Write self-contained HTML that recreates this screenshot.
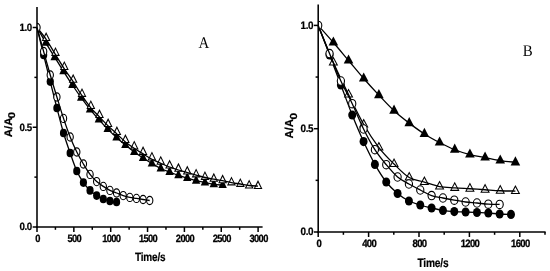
<!DOCTYPE html>
<html lang="en">
<head>
<meta charset="utf-8">
<title>A/A0 versus Time</title>
<style>
html,body{margin:0;padding:0;background:#fff;}
body{width:550px;height:271px;overflow:hidden;}
svg{display:block;will-change:transform;}
</style>
</head>
<body>
<svg width="550" height="271" viewBox="0 0 550 271">
<rect width="550" height="271" fill="#fff"/>
<filter id="soft" x="0" y="0" width="550" height="271" filterUnits="userSpaceOnUse"><feGaussianBlur stdDeviation="0.38"/></filter>
<g filter="url(#soft)">
<defs><clipPath id="ca"><rect x="37.00" y="0" width="300" height="227.00"/></clipPath><clipPath id="cb"><rect x="318.20" y="0" width="300" height="232.00"/></clipPath></defs>
<path d="M37.00 27.50 C38.47 30.05 42.89 37.85 45.84 42.80 C48.79 47.75 51.73 52.45 54.68 57.20 C57.63 61.95 60.57 66.67 63.52 71.30 C66.47 75.93 69.41 80.60 72.36 85.00 C75.31 89.40 78.25 93.63 81.20 97.70 C84.15 101.77 87.09 105.77 90.04 109.40 C92.99 113.03 95.93 116.22 98.88 119.50 C101.83 122.78 104.77 126.10 107.72 129.10 C110.67 132.10 113.61 134.83 116.56 137.50 C119.51 140.17 122.45 142.68 125.40 145.10 C128.35 147.52 131.29 149.85 134.24 152.00 C137.19 154.15 140.13 156.08 143.08 158.00 C146.03 159.92 148.97 161.75 151.92 163.50 C154.87 165.25 157.81 167.08 160.76 168.50 C163.71 169.92 166.65 170.87 169.60 172.00 C172.55 173.13 175.49 174.28 178.44 175.30 C181.39 176.32 184.33 177.20 187.28 178.10 C190.23 179.00 193.17 179.97 196.12 180.70 C199.07 181.43 202.01 181.90 204.96 182.50 C207.91 183.10 210.85 183.87 213.80 184.30 C216.75 184.73 221.17 184.97 222.64 185.10" fill="none" stroke="#000" stroke-width="1.30"/>
<g clip-path="url(#ca)">
<polygon points="45.84,36.80 41.64,45.80 50.04,45.80" fill="#000"/>
<polygon points="54.68,51.20 50.48,60.20 58.88,60.20" fill="#000"/>
<polygon points="63.52,65.30 59.32,74.30 67.72,74.30" fill="#000"/>
<polygon points="72.36,79.00 68.16,88.00 76.56,88.00" fill="#000"/>
<polygon points="81.20,91.70 77.00,100.70 85.40,100.70" fill="#000"/>
<polygon points="90.04,103.40 85.84,112.40 94.24,112.40" fill="#000"/>
<polygon points="98.88,113.50 94.68,122.50 103.08,122.50" fill="#000"/>
<polygon points="107.72,123.10 103.52,132.10 111.92,132.10" fill="#000"/>
<polygon points="116.56,131.50 112.36,140.50 120.76,140.50" fill="#000"/>
<polygon points="125.40,139.10 121.20,148.10 129.60,148.10" fill="#000"/>
<polygon points="134.24,146.00 130.04,155.00 138.44,155.00" fill="#000"/>
<polygon points="143.08,152.00 138.88,161.00 147.28,161.00" fill="#000"/>
<polygon points="151.92,157.50 147.72,166.50 156.12,166.50" fill="#000"/>
<polygon points="160.76,162.50 156.56,171.50 164.96,171.50" fill="#000"/>
<polygon points="169.60,166.00 165.40,175.00 173.80,175.00" fill="#000"/>
<polygon points="178.44,169.30 174.24,178.30 182.64,178.30" fill="#000"/>
<polygon points="187.28,172.10 183.08,181.10 191.48,181.10" fill="#000"/>
<polygon points="196.12,174.70 191.92,183.70 200.32,183.70" fill="#000"/>
<polygon points="204.96,176.50 200.76,185.50 209.16,185.50" fill="#000"/>
<polygon points="213.80,178.30 209.60,187.30 218.00,187.30" fill="#000"/>
<polygon points="222.64,179.10 218.44,188.10 226.84,188.10" fill="#000"/>
</g>
<path d="M37.00 27.50 C38.11 32.08 41.42 45.98 43.63 55.00 C45.84 64.02 48.05 72.77 50.26 81.60 C52.47 90.43 54.68 99.43 56.89 108.00 C59.10 116.57 61.31 125.50 63.52 133.00 C65.73 140.50 67.94 146.67 70.15 153.00 C72.36 159.33 74.57 166.07 76.78 171.00 C78.99 175.93 81.20 179.37 83.41 182.60 C85.62 185.83 87.83 188.23 90.04 190.40 C92.25 192.57 94.46 194.17 96.67 195.60 C98.88 197.03 101.09 198.10 103.30 199.00 C105.51 199.90 107.72 200.50 109.93 201.00 C112.14 201.50 115.45 201.83 116.56 202.00" fill="none" stroke="#000" stroke-width="1.30"/>
<g clip-path="url(#ca)">
<ellipse cx="43.63" cy="55.00" rx="3.60" ry="4.30" fill="#000"/>
<ellipse cx="50.26" cy="81.60" rx="3.60" ry="4.30" fill="#000"/>
<ellipse cx="56.89" cy="108.00" rx="3.60" ry="4.30" fill="#000"/>
<ellipse cx="63.52" cy="133.00" rx="3.60" ry="4.30" fill="#000"/>
<ellipse cx="70.15" cy="153.00" rx="3.60" ry="4.30" fill="#000"/>
<ellipse cx="76.78" cy="171.00" rx="3.60" ry="4.30" fill="#000"/>
<ellipse cx="83.41" cy="182.60" rx="3.60" ry="4.30" fill="#000"/>
<ellipse cx="90.04" cy="190.40" rx="3.60" ry="4.30" fill="#000"/>
<ellipse cx="96.67" cy="195.60" rx="3.60" ry="4.30" fill="#000"/>
<ellipse cx="103.30" cy="199.00" rx="3.60" ry="4.30" fill="#000"/>
<ellipse cx="109.93" cy="201.00" rx="3.60" ry="4.30" fill="#000"/>
<ellipse cx="116.56" cy="202.00" rx="3.60" ry="4.30" fill="#000"/>
</g>
<g clip-path="url(#ca)">
<polygon points="46.14,32.10 41.69,41.10 50.59,41.10" fill="#000"/>
<polygon points="46.14,34.47 43.38,40.05 48.90,40.05" fill="#fff"/>
<polygon points="55.48,46.90 51.03,55.90 59.93,55.90" fill="#000"/>
<polygon points="55.48,49.27 52.72,54.85 58.24,54.85" fill="#fff"/>
<polygon points="64.32,61.00 59.87,70.00 68.77,70.00" fill="#000"/>
<polygon points="64.32,63.37 61.56,68.95 67.08,68.95" fill="#fff"/>
<polygon points="73.16,73.80 68.71,82.80 77.61,82.80" fill="#000"/>
<polygon points="73.16,76.17 70.40,81.75 75.92,81.75" fill="#fff"/>
<polygon points="82.00,87.90 77.55,96.90 86.45,96.90" fill="#000"/>
<polygon points="82.00,90.27 79.24,95.85 84.76,95.85" fill="#fff"/>
<polygon points="90.84,100.00 86.39,109.00 95.29,109.00" fill="#000"/>
<polygon points="90.84,102.37 88.08,107.95 93.60,107.95" fill="#fff"/>
<polygon points="99.48,109.10 95.03,118.10 103.93,118.10" fill="#000"/>
<polygon points="99.48,111.47 96.72,117.05 102.24,117.05" fill="#fff"/>
<polygon points="108.12,118.10 103.67,127.10 112.57,127.10" fill="#000"/>
<polygon points="108.12,120.47 105.36,126.05 110.88,126.05" fill="#fff"/>
<polygon points="116.86,126.10 112.41,135.10 121.31,135.10" fill="#000"/>
<polygon points="116.86,128.47 114.10,134.05 119.62,134.05" fill="#fff"/>
<polygon points="125.40,134.10 120.95,143.10 129.85,143.10" fill="#000"/>
<polygon points="125.40,136.47 122.64,142.05 128.16,142.05" fill="#fff"/>
<polygon points="134.24,140.50 129.79,149.50 138.69,149.50" fill="#000"/>
<polygon points="134.24,142.87 131.48,148.45 137.00,148.45" fill="#fff"/>
<polygon points="143.08,146.10 138.63,155.10 147.53,155.10" fill="#000"/>
<polygon points="143.08,148.47 140.32,154.05 145.84,154.05" fill="#fff"/>
<polygon points="151.92,151.50 147.47,160.50 156.37,160.50" fill="#000"/>
<polygon points="151.92,153.87 149.16,159.45 154.68,159.45" fill="#fff"/>
<polygon points="160.76,155.70 156.31,164.70 165.21,164.70" fill="#000"/>
<polygon points="160.76,158.07 158.00,163.65 163.52,163.65" fill="#fff"/>
<polygon points="169.60,159.60 165.15,168.60 174.05,168.60" fill="#000"/>
<polygon points="169.60,161.97 166.84,167.55 172.36,167.55" fill="#fff"/>
<polygon points="178.44,162.80 173.99,171.80 182.89,171.80" fill="#000"/>
<polygon points="178.44,165.17 175.68,170.75 181.20,170.75" fill="#fff"/>
<polygon points="187.28,165.60 182.83,174.60 191.73,174.60" fill="#000"/>
<polygon points="187.28,167.97 184.52,173.55 190.04,173.55" fill="#fff"/>
<polygon points="196.12,168.40 191.67,177.40 200.57,177.40" fill="#000"/>
<polygon points="196.12,170.77 193.36,176.35 198.88,176.35" fill="#fff"/>
<polygon points="204.96,170.90 200.51,179.90 209.41,179.90" fill="#000"/>
<polygon points="204.96,173.27 202.20,178.85 207.72,178.85" fill="#fff"/>
<polygon points="213.80,172.80 209.35,181.80 218.25,181.80" fill="#000"/>
<polygon points="213.80,175.17 211.04,180.75 216.56,180.75" fill="#fff"/>
<polygon points="222.64,174.30 218.19,183.30 227.09,183.30" fill="#000"/>
<polygon points="222.64,176.67 219.88,182.25 225.40,182.25" fill="#fff"/>
<polygon points="231.48,176.40 227.03,185.40 235.93,185.40" fill="#000"/>
<polygon points="231.48,178.77 228.72,184.35 234.24,184.35" fill="#fff"/>
<polygon points="240.32,177.90 235.87,186.90 244.77,186.90" fill="#000"/>
<polygon points="240.32,180.27 237.56,185.85 243.08,185.85" fill="#fff"/>
<polygon points="249.16,179.50 244.71,188.50 253.61,188.50" fill="#000"/>
<polygon points="249.16,181.87 246.40,187.45 251.92,187.45" fill="#fff"/>
<polygon points="258.00,180.10 253.55,189.10 262.45,189.10" fill="#000"/>
<polygon points="258.00,182.47 255.24,188.05 260.76,188.05" fill="#fff"/>
</g>
<path d="M37.00 27.50 C38.52 29.47 43.06 34.80 46.14 39.30 C49.22 43.80 52.45 49.58 55.48 54.50 C58.51 59.42 61.37 64.28 64.32 68.80 C67.27 73.32 70.21 77.12 73.16 81.60 C76.11 86.08 79.05 91.33 82.00 95.70 C84.95 100.07 87.93 104.27 90.84 107.80 C93.75 111.33 96.60 113.88 99.48 116.90 C102.36 119.92 105.22 123.07 108.12 125.90 C111.02 128.73 113.98 131.23 116.86 133.90 C119.74 136.57 122.50 139.50 125.40 141.90 C128.30 144.30 131.29 146.30 134.24 148.30 C137.19 150.30 140.13 152.07 143.08 153.90 C146.03 155.73 148.97 157.73 151.92 159.30 C154.87 160.87 157.81 162.02 160.76 163.30 C163.71 164.58 166.65 165.88 169.60 167.00 C172.55 168.12 175.49 169.07 178.44 170.00 C181.39 170.93 184.33 171.73 187.28 172.60 C190.23 173.47 193.17 174.38 196.12 175.20 C199.07 176.02 202.01 176.83 204.96 177.50 C207.91 178.17 210.85 178.68 213.80 179.20 C216.75 179.72 219.69 180.03 222.64 180.60 C225.59 181.17 228.53 182.03 231.48 182.60 C234.43 183.17 237.37 183.52 240.32 184.00 C243.27 184.48 246.21 185.15 249.16 185.50 C252.11 185.85 256.53 186.00 258.00 186.10" fill="none" stroke="#000" stroke-width="1.30"/>
<g clip-path="url(#ca)">
<ellipse cx="37.00" cy="27.50" rx="3.15" ry="4.15" fill="#fff" stroke="#000" stroke-width="1.10"/>
<ellipse cx="43.63" cy="51.50" rx="3.15" ry="4.15" fill="#fff" stroke="#000" stroke-width="1.10"/>
<ellipse cx="50.26" cy="75.00" rx="3.15" ry="4.15" fill="#fff" stroke="#000" stroke-width="1.10"/>
<ellipse cx="56.89" cy="97.00" rx="3.15" ry="4.15" fill="#fff" stroke="#000" stroke-width="1.10"/>
<ellipse cx="63.52" cy="118.40" rx="3.15" ry="4.15" fill="#fff" stroke="#000" stroke-width="1.10"/>
<ellipse cx="70.15" cy="137.00" rx="3.15" ry="4.15" fill="#fff" stroke="#000" stroke-width="1.10"/>
<ellipse cx="76.78" cy="152.00" rx="3.15" ry="4.15" fill="#fff" stroke="#000" stroke-width="1.10"/>
<ellipse cx="83.41" cy="164.00" rx="3.15" ry="4.15" fill="#fff" stroke="#000" stroke-width="1.10"/>
<ellipse cx="90.04" cy="174.40" rx="3.15" ry="4.15" fill="#fff" stroke="#000" stroke-width="1.10"/>
<ellipse cx="96.67" cy="181.60" rx="3.15" ry="4.15" fill="#fff" stroke="#000" stroke-width="1.10"/>
<ellipse cx="103.30" cy="186.40" rx="3.15" ry="4.15" fill="#fff" stroke="#000" stroke-width="1.10"/>
<ellipse cx="109.93" cy="190.40" rx="3.15" ry="4.15" fill="#fff" stroke="#000" stroke-width="1.10"/>
<ellipse cx="116.56" cy="193.00" rx="3.15" ry="4.15" fill="#fff" stroke="#000" stroke-width="1.10"/>
<ellipse cx="123.19" cy="195.60" rx="3.15" ry="4.15" fill="#fff" stroke="#000" stroke-width="1.10"/>
<ellipse cx="129.82" cy="197.40" rx="3.15" ry="4.15" fill="#fff" stroke="#000" stroke-width="1.10"/>
<ellipse cx="136.45" cy="198.40" rx="3.15" ry="4.15" fill="#fff" stroke="#000" stroke-width="1.10"/>
<ellipse cx="143.08" cy="199.50" rx="3.15" ry="4.15" fill="#fff" stroke="#000" stroke-width="1.10"/>
<ellipse cx="149.71" cy="200.50" rx="3.15" ry="4.15" fill="#fff" stroke="#000" stroke-width="1.10"/>
</g>
<path d="M37.00 27.50 C38.11 31.50 41.42 43.58 43.63 51.50 C45.84 59.42 48.05 67.42 50.26 75.00 C52.47 82.58 54.68 89.77 56.89 97.00 C59.10 104.23 61.31 111.73 63.52 118.40 C65.73 125.07 67.94 131.40 70.15 137.00 C72.36 142.60 74.57 147.50 76.78 152.00 C78.99 156.50 81.20 160.27 83.41 164.00 C85.62 167.73 87.83 171.47 90.04 174.40 C92.25 177.33 94.46 179.60 96.67 181.60 C98.88 183.60 101.09 184.93 103.30 186.40 C105.51 187.87 107.72 189.30 109.93 190.40 C112.14 191.50 114.35 192.13 116.56 193.00 C118.77 193.87 120.98 194.87 123.19 195.60 C125.40 196.33 127.61 196.93 129.82 197.40 C132.03 197.87 134.24 198.05 136.45 198.40 C138.66 198.75 140.87 199.15 143.08 199.50 C145.29 199.85 148.60 200.33 149.71 200.50" fill="none" stroke="#000" stroke-width="1.30"/>
<path d="M37.00 7.00 V227.78" stroke="#000" stroke-width="1.55" fill="none"/>
<path d="M36.23 227.00 H262.60" stroke="#000" stroke-width="1.55" fill="none"/>
<path d="M32.70 227.00 H37.00" stroke="#000" stroke-width="1.50"/>
<path d="M34.40 177.12 H37.00" stroke="#000" stroke-width="1.50"/>
<path d="M32.70 127.25 H37.00" stroke="#000" stroke-width="1.50"/>
<path d="M34.40 77.38 H37.00" stroke="#000" stroke-width="1.50"/>
<path d="M32.70 27.50 H37.00" stroke="#000" stroke-width="1.50"/>
<path d="M37.00 227.00 V232.00" stroke="#000" stroke-width="1.50"/>
<path d="M55.42 227.00 V229.80" stroke="#000" stroke-width="1.50"/>
<path d="M73.85 227.00 V232.00" stroke="#000" stroke-width="1.50"/>
<path d="M92.27 227.00 V229.80" stroke="#000" stroke-width="1.50"/>
<path d="M110.70 227.00 V232.00" stroke="#000" stroke-width="1.50"/>
<path d="M129.12 227.00 V229.80" stroke="#000" stroke-width="1.50"/>
<path d="M147.55 227.00 V232.00" stroke="#000" stroke-width="1.50"/>
<path d="M165.98 227.00 V229.80" stroke="#000" stroke-width="1.50"/>
<path d="M184.40 227.00 V232.00" stroke="#000" stroke-width="1.50"/>
<path d="M202.83 227.00 V229.80" stroke="#000" stroke-width="1.50"/>
<path d="M221.25 227.00 V232.00" stroke="#000" stroke-width="1.50"/>
<path d="M239.68 227.00 V229.80" stroke="#000" stroke-width="1.50"/>
<path d="M258.10 227.00 V232.00" stroke="#000" stroke-width="1.50"/>
<text transform="translate(37.50 242.00) scale(0.880 1)" font-family="'Liberation Sans', Arial, Helvetica, sans-serif" font-size="10.60" font-weight="bold" text-anchor="middle" fill="#000" text-rendering="geometricPrecision" letter-spacing="-0.75" stroke="#000" stroke-width="0.30">0</text>
<text transform="translate(74.35 242.00) scale(0.880 1)" font-family="'Liberation Sans', Arial, Helvetica, sans-serif" font-size="10.60" font-weight="bold" text-anchor="middle" fill="#000" text-rendering="geometricPrecision" letter-spacing="-0.75" stroke="#000" stroke-width="0.30">500</text>
<text transform="translate(111.20 242.00) scale(0.880 1)" font-family="'Liberation Sans', Arial, Helvetica, sans-serif" font-size="10.60" font-weight="bold" text-anchor="middle" fill="#000" text-rendering="geometricPrecision" letter-spacing="-0.75" stroke="#000" stroke-width="0.30">1000</text>
<text transform="translate(148.05 242.00) scale(0.880 1)" font-family="'Liberation Sans', Arial, Helvetica, sans-serif" font-size="10.60" font-weight="bold" text-anchor="middle" fill="#000" text-rendering="geometricPrecision" letter-spacing="-0.75" stroke="#000" stroke-width="0.30">1500</text>
<text transform="translate(184.90 242.00) scale(0.880 1)" font-family="'Liberation Sans', Arial, Helvetica, sans-serif" font-size="10.60" font-weight="bold" text-anchor="middle" fill="#000" text-rendering="geometricPrecision" letter-spacing="-0.75" stroke="#000" stroke-width="0.30">2000</text>
<text transform="translate(221.75 242.00) scale(0.880 1)" font-family="'Liberation Sans', Arial, Helvetica, sans-serif" font-size="10.60" font-weight="bold" text-anchor="middle" fill="#000" text-rendering="geometricPrecision" letter-spacing="-0.75" stroke="#000" stroke-width="0.30">2500</text>
<text transform="translate(258.60 242.00) scale(0.880 1)" font-family="'Liberation Sans', Arial, Helvetica, sans-serif" font-size="10.60" font-weight="bold" text-anchor="middle" fill="#000" text-rendering="geometricPrecision" letter-spacing="-0.75" stroke="#000" stroke-width="0.30">3000</text>
<text transform="translate(31.80 230.40) scale(0.920 1)" font-family="'Liberation Sans', Arial, Helvetica, sans-serif" font-size="10.60" font-weight="bold" text-anchor="end" fill="#000" text-rendering="geometricPrecision" letter-spacing="-0.50" stroke="#000" stroke-width="0.22">0.0</text>
<text transform="translate(31.80 130.65) scale(0.920 1)" font-family="'Liberation Sans', Arial, Helvetica, sans-serif" font-size="10.60" font-weight="bold" text-anchor="end" fill="#000" text-rendering="geometricPrecision" letter-spacing="-0.50" stroke="#000" stroke-width="0.22">0.5</text>
<text transform="translate(31.80 30.90) scale(0.920 1)" font-family="'Liberation Sans', Arial, Helvetica, sans-serif" font-size="10.60" font-weight="bold" text-anchor="end" fill="#000" text-rendering="geometricPrecision" letter-spacing="-0.50" stroke="#000" stroke-width="0.22">1.0</text>
<text transform="translate(150.20 261.00) scale(0.830 1)" font-family="'Liberation Sans', Arial, Helvetica, sans-serif" font-size="12.08" font-weight="bold" text-anchor="middle" fill="#000" text-rendering="geometricPrecision" letter-spacing="-0.25" stroke="#000" stroke-width="0.20">Time/s</text>
<text transform="translate(11.70 137.30) rotate(-90) scale(1.060 1)" font-family="'Liberation Sans', Arial, Helvetica, sans-serif" font-size="10.90" font-weight="bold" text-anchor="start" fill="#000" stroke="#000" stroke-width="0.2" text-rendering="geometricPrecision">A/A</text>
<text transform="translate(15.00 118.50) rotate(-90) scale(1.200 1)" font-family="'Liberation Sans', Arial, Helvetica, sans-serif" font-size="9.80" font-weight="bold" text-anchor="start" fill="#000" stroke="#000" stroke-width="0.2" text-rendering="geometricPrecision">0</text>
<text transform="translate(203.80 48.00) scale(0.920 1)" font-family="'Liberation Serif', 'Times New Roman', Times, serif" font-size="16.20" font-weight="normal" text-anchor="middle" fill="#000" text-rendering="geometricPrecision">A</text>
<path d="M318.20 25.40 C320.73 28.26 328.31 36.68 333.37 42.53 C338.43 48.39 343.48 54.53 348.54 60.53 C353.60 66.53 358.65 72.77 363.71 78.53 C368.77 84.30 373.82 89.77 378.88 95.13 C383.94 100.50 388.99 106.07 394.05 110.73 C399.11 115.40 404.16 119.27 409.22 123.13 C414.28 127.00 419.33 130.70 424.39 133.93 C429.45 137.17 434.50 139.90 439.56 142.53 C444.62 145.17 449.67 147.73 454.73 149.73 C459.79 151.73 464.84 153.23 469.90 154.53 C474.96 155.83 480.01 156.53 485.07 157.53 C490.13 158.53 495.18 159.73 500.24 160.53 C505.30 161.33 512.88 162.03 515.41 162.33" fill="none" stroke="#000" stroke-width="1.30"/>
<g clip-path="url(#cb)">
<polygon points="333.37,36.40 328.57,45.60 338.17,45.60" fill="#000"/>
<polygon points="348.54,54.40 343.74,63.60 353.34,63.60" fill="#000"/>
<polygon points="363.71,72.40 358.91,81.60 368.51,81.60" fill="#000"/>
<polygon points="378.88,89.00 374.08,98.20 383.68,98.20" fill="#000"/>
<polygon points="394.05,104.60 389.25,113.80 398.85,113.80" fill="#000"/>
<polygon points="409.22,117.00 404.42,126.20 414.02,126.20" fill="#000"/>
<polygon points="424.39,127.80 419.59,137.00 429.19,137.00" fill="#000"/>
<polygon points="439.56,136.40 434.76,145.60 444.36,145.60" fill="#000"/>
<polygon points="454.73,143.60 449.93,152.80 459.53,152.80" fill="#000"/>
<polygon points="469.90,148.40 465.10,157.60 474.70,157.60" fill="#000"/>
<polygon points="485.07,151.40 480.27,160.60 489.87,160.60" fill="#000"/>
<polygon points="500.24,154.40 495.44,163.60 505.04,163.60" fill="#000"/>
<polygon points="515.41,156.20 510.61,165.40 520.21,165.40" fill="#000"/>
</g>
<path d="M318.20 25.40 C320.09 30.33 325.76 45.07 329.54 55.00 C333.32 64.93 337.10 75.00 340.88 85.00 C344.66 95.00 348.44 105.57 352.22 115.00 C356.00 124.43 359.78 133.37 363.56 141.60 C367.34 149.83 371.12 157.67 374.90 164.40 C378.68 171.13 382.46 177.15 386.24 182.00 C390.02 186.85 393.80 190.33 397.58 193.50 C401.36 196.67 405.14 199.08 408.92 201.00 C412.70 202.92 416.48 203.83 420.26 205.00 C424.04 206.17 427.82 207.10 431.60 208.00 C435.38 208.90 439.16 209.80 442.94 210.40 C446.72 211.00 450.50 211.33 454.28 211.60 C458.06 211.87 461.84 211.85 465.62 212.00 C469.40 212.15 473.18 212.33 476.96 212.50 C480.74 212.67 484.52 212.75 488.30 213.00 C492.08 213.25 495.86 213.77 499.64 214.00 C503.42 214.23 509.09 214.33 510.98 214.40" fill="none" stroke="#000" stroke-width="1.30"/>
<g clip-path="url(#cb)">
<ellipse cx="329.54" cy="55.00" rx="4.00" ry="4.60" fill="#000"/>
<ellipse cx="340.88" cy="85.00" rx="4.00" ry="4.60" fill="#000"/>
<ellipse cx="352.22" cy="115.00" rx="4.00" ry="4.60" fill="#000"/>
<ellipse cx="363.56" cy="141.60" rx="4.00" ry="4.60" fill="#000"/>
<ellipse cx="374.90" cy="164.40" rx="4.00" ry="4.60" fill="#000"/>
<ellipse cx="386.24" cy="182.00" rx="4.00" ry="4.60" fill="#000"/>
<ellipse cx="397.58" cy="193.50" rx="4.00" ry="4.60" fill="#000"/>
<ellipse cx="408.92" cy="201.00" rx="4.00" ry="4.60" fill="#000"/>
<ellipse cx="420.26" cy="205.00" rx="4.00" ry="4.60" fill="#000"/>
<ellipse cx="431.60" cy="208.00" rx="4.00" ry="4.60" fill="#000"/>
<ellipse cx="442.94" cy="210.40" rx="4.00" ry="4.60" fill="#000"/>
<ellipse cx="454.28" cy="211.60" rx="4.00" ry="4.60" fill="#000"/>
<ellipse cx="465.62" cy="212.00" rx="4.00" ry="4.60" fill="#000"/>
<ellipse cx="476.96" cy="212.50" rx="4.00" ry="4.60" fill="#000"/>
<ellipse cx="488.30" cy="213.00" rx="4.00" ry="4.60" fill="#000"/>
<ellipse cx="499.64" cy="214.00" rx="4.00" ry="4.60" fill="#000"/>
<ellipse cx="510.98" cy="214.40" rx="4.00" ry="4.60" fill="#000"/>
</g>
<g clip-path="url(#cb)">
<polygon points="333.37,56.40 328.57,65.60 338.17,65.60" fill="#000"/>
<polygon points="333.37,58.67 330.30,64.55 336.44,64.55" fill="#fff"/>
<polygon points="348.54,88.40 343.74,97.60 353.34,97.60" fill="#000"/>
<polygon points="348.54,90.67 345.47,96.55 351.61,96.55" fill="#fff"/>
<polygon points="363.71,118.40 358.91,127.60 368.51,127.60" fill="#000"/>
<polygon points="363.71,120.67 360.64,126.55 366.78,126.55" fill="#fff"/>
<polygon points="378.88,141.40 374.08,150.60 383.68,150.60" fill="#000"/>
<polygon points="378.88,143.67 375.81,149.55 381.95,149.55" fill="#fff"/>
<polygon points="394.05,157.90 389.25,167.10 398.85,167.10" fill="#000"/>
<polygon points="394.05,160.17 390.98,166.05 397.12,166.05" fill="#fff"/>
<polygon points="409.22,171.40 404.42,180.60 414.02,180.60" fill="#000"/>
<polygon points="409.22,173.67 406.15,179.55 412.29,179.55" fill="#fff"/>
<polygon points="424.39,175.90 419.59,185.10 429.19,185.10" fill="#000"/>
<polygon points="424.39,178.17 421.32,184.05 427.46,184.05" fill="#fff"/>
<polygon points="439.56,180.40 434.76,189.60 444.36,189.60" fill="#000"/>
<polygon points="439.56,182.67 436.49,188.55 442.63,188.55" fill="#fff"/>
<polygon points="454.73,181.70 449.93,190.90 459.53,190.90" fill="#000"/>
<polygon points="454.73,183.97 451.66,189.85 457.80,189.85" fill="#fff"/>
<polygon points="469.90,182.60 465.10,191.80 474.70,191.80" fill="#000"/>
<polygon points="469.90,184.87 466.83,190.75 472.97,190.75" fill="#fff"/>
<polygon points="485.07,183.60 480.27,192.80 489.87,192.80" fill="#000"/>
<polygon points="485.07,185.87 482.00,191.75 488.14,191.75" fill="#fff"/>
<polygon points="500.24,184.60 495.44,193.80 505.04,193.80" fill="#000"/>
<polygon points="500.24,186.87 497.17,192.75 503.31,192.75" fill="#fff"/>
<polygon points="515.41,184.90 510.61,194.10 520.21,194.10" fill="#000"/>
<polygon points="515.41,187.17 512.34,193.05 518.48,193.05" fill="#fff"/>
</g>
<path d="M318.20 25.40 C320.73 31.59 328.31 51.01 333.37 62.53 C338.43 74.06 343.48 84.20 348.54 94.53 C353.60 104.87 358.65 115.70 363.71 124.53 C368.77 133.37 373.82 140.95 378.88 147.53 C383.94 154.12 388.99 159.03 394.05 164.03 C399.11 169.03 404.16 174.53 409.22 177.53 C414.28 180.53 419.33 180.53 424.39 182.03 C429.45 183.53 434.50 185.57 439.56 186.53 C444.62 187.50 449.67 187.47 454.73 187.83 C459.79 188.20 464.84 188.42 469.90 188.73 C474.96 189.05 480.01 189.40 485.07 189.73 C490.13 190.07 495.18 190.52 500.24 190.73 C505.30 190.95 512.88 190.98 515.41 191.03" fill="none" stroke="#000" stroke-width="1.30"/>
<g clip-path="url(#cb)">
<ellipse cx="318.20" cy="25.40" rx="3.60" ry="4.20" fill="#fff" stroke="#000" stroke-width="1.10"/>
<ellipse cx="329.54" cy="53.60" rx="3.60" ry="4.20" fill="#fff" stroke="#000" stroke-width="1.10"/>
<ellipse cx="340.88" cy="81.00" rx="3.60" ry="4.20" fill="#fff" stroke="#000" stroke-width="1.10"/>
<ellipse cx="352.22" cy="103.70" rx="3.60" ry="4.20" fill="#fff" stroke="#000" stroke-width="1.10"/>
<ellipse cx="363.56" cy="129.00" rx="3.60" ry="4.20" fill="#fff" stroke="#000" stroke-width="1.10"/>
<ellipse cx="374.90" cy="149.70" rx="3.60" ry="4.20" fill="#fff" stroke="#000" stroke-width="1.10"/>
<ellipse cx="386.24" cy="164.70" rx="3.60" ry="4.20" fill="#fff" stroke="#000" stroke-width="1.10"/>
<ellipse cx="397.58" cy="177.00" rx="3.60" ry="4.20" fill="#fff" stroke="#000" stroke-width="1.10"/>
<ellipse cx="408.92" cy="184.00" rx="3.60" ry="4.20" fill="#fff" stroke="#000" stroke-width="1.10"/>
<ellipse cx="420.26" cy="190.00" rx="3.60" ry="4.20" fill="#fff" stroke="#000" stroke-width="1.10"/>
<ellipse cx="431.60" cy="195.60" rx="3.60" ry="4.20" fill="#fff" stroke="#000" stroke-width="1.10"/>
<ellipse cx="442.94" cy="198.00" rx="3.60" ry="4.20" fill="#fff" stroke="#000" stroke-width="1.10"/>
<ellipse cx="454.28" cy="200.20" rx="3.60" ry="4.20" fill="#fff" stroke="#000" stroke-width="1.10"/>
<ellipse cx="465.62" cy="202.00" rx="3.60" ry="4.20" fill="#fff" stroke="#000" stroke-width="1.10"/>
<ellipse cx="476.96" cy="203.00" rx="3.60" ry="4.20" fill="#fff" stroke="#000" stroke-width="1.10"/>
<ellipse cx="488.30" cy="204.20" rx="3.60" ry="4.20" fill="#fff" stroke="#000" stroke-width="1.10"/>
<ellipse cx="499.64" cy="204.40" rx="3.60" ry="4.20" fill="#fff" stroke="#000" stroke-width="1.10"/>
</g>
<path d="M318.20 25.40 C320.09 30.10 325.76 44.33 329.54 53.60 C333.32 62.87 337.10 72.65 340.88 81.00 C344.66 89.35 348.44 95.70 352.22 103.70 C356.00 111.70 359.78 121.33 363.56 129.00 C367.34 136.67 371.12 143.75 374.90 149.70 C378.68 155.65 382.46 160.15 386.24 164.70 C390.02 169.25 393.80 173.78 397.58 177.00 C401.36 180.22 405.14 181.83 408.92 184.00 C412.70 186.17 416.48 188.07 420.26 190.00 C424.04 191.93 427.82 194.27 431.60 195.60 C435.38 196.93 439.16 197.23 442.94 198.00 C446.72 198.77 450.50 199.53 454.28 200.20 C458.06 200.87 461.84 201.53 465.62 202.00 C469.40 202.47 473.18 202.63 476.96 203.00 C480.74 203.37 484.52 203.97 488.30 204.20 C492.08 204.43 497.75 204.37 499.64 204.40" fill="none" stroke="#000" stroke-width="1.30"/>
<path d="M318.20 4.50 V232.78" stroke="#000" stroke-width="1.55" fill="none"/>
<path d="M317.43 232.00 H545.60" stroke="#000" stroke-width="1.55" fill="none"/>
<path d="M313.90 232.00 H318.20" stroke="#000" stroke-width="1.50"/>
<path d="M315.60 180.35 H318.20" stroke="#000" stroke-width="1.50"/>
<path d="M313.90 128.70 H318.20" stroke="#000" stroke-width="1.50"/>
<path d="M315.60 77.05 H318.20" stroke="#000" stroke-width="1.50"/>
<path d="M313.90 25.40 H318.20" stroke="#000" stroke-width="1.50"/>
<path d="M318.20 232.00 V237.00" stroke="#000" stroke-width="1.50"/>
<path d="M343.40 232.00 V234.80" stroke="#000" stroke-width="1.50"/>
<path d="M368.60 232.00 V237.00" stroke="#000" stroke-width="1.50"/>
<path d="M393.80 232.00 V234.80" stroke="#000" stroke-width="1.50"/>
<path d="M419.00 232.00 V237.00" stroke="#000" stroke-width="1.50"/>
<path d="M444.20 232.00 V234.80" stroke="#000" stroke-width="1.50"/>
<path d="M469.40 232.00 V237.00" stroke="#000" stroke-width="1.50"/>
<path d="M494.60 232.00 V234.80" stroke="#000" stroke-width="1.50"/>
<path d="M519.80 232.00 V237.00" stroke="#000" stroke-width="1.50"/>
<path d="M545.00 232.00 V234.80" stroke="#000" stroke-width="1.50"/>
<text transform="translate(318.70 247.00) scale(0.880 1)" font-family="'Liberation Sans', Arial, Helvetica, sans-serif" font-size="10.80" font-weight="bold" text-anchor="middle" fill="#000" text-rendering="geometricPrecision" letter-spacing="-0.75" stroke="#000" stroke-width="0.30">0</text>
<text transform="translate(369.10 247.00) scale(0.880 1)" font-family="'Liberation Sans', Arial, Helvetica, sans-serif" font-size="10.80" font-weight="bold" text-anchor="middle" fill="#000" text-rendering="geometricPrecision" letter-spacing="-0.75" stroke="#000" stroke-width="0.30">400</text>
<text transform="translate(419.50 247.00) scale(0.880 1)" font-family="'Liberation Sans', Arial, Helvetica, sans-serif" font-size="10.80" font-weight="bold" text-anchor="middle" fill="#000" text-rendering="geometricPrecision" letter-spacing="-0.75" stroke="#000" stroke-width="0.30">800</text>
<text transform="translate(469.90 247.00) scale(0.880 1)" font-family="'Liberation Sans', Arial, Helvetica, sans-serif" font-size="10.80" font-weight="bold" text-anchor="middle" fill="#000" text-rendering="geometricPrecision" letter-spacing="-0.75" stroke="#000" stroke-width="0.30">1200</text>
<text transform="translate(520.30 247.00) scale(0.880 1)" font-family="'Liberation Sans', Arial, Helvetica, sans-serif" font-size="10.80" font-weight="bold" text-anchor="middle" fill="#000" text-rendering="geometricPrecision" letter-spacing="-0.75" stroke="#000" stroke-width="0.30">1600</text>
<text transform="translate(313.00 235.40) scale(0.920 1)" font-family="'Liberation Sans', Arial, Helvetica, sans-serif" font-size="10.80" font-weight="bold" text-anchor="end" fill="#000" text-rendering="geometricPrecision" letter-spacing="-0.50" stroke="#000" stroke-width="0.22">0.0</text>
<text transform="translate(313.00 132.10) scale(0.920 1)" font-family="'Liberation Sans', Arial, Helvetica, sans-serif" font-size="10.80" font-weight="bold" text-anchor="end" fill="#000" text-rendering="geometricPrecision" letter-spacing="-0.50" stroke="#000" stroke-width="0.22">0.5</text>
<text transform="translate(313.00 28.80) scale(0.920 1)" font-family="'Liberation Sans', Arial, Helvetica, sans-serif" font-size="10.80" font-weight="bold" text-anchor="end" fill="#000" text-rendering="geometricPrecision" letter-spacing="-0.50" stroke="#000" stroke-width="0.22">1.0</text>
<text transform="translate(432.90 266.50) scale(0.830 1)" font-family="'Liberation Sans', Arial, Helvetica, sans-serif" font-size="12.31" font-weight="bold" text-anchor="middle" fill="#000" text-rendering="geometricPrecision" letter-spacing="-0.25" stroke="#000" stroke-width="0.20">Time/s</text>
<text transform="translate(293.10 138.60) rotate(-90) scale(0.980 1)" font-family="'Liberation Sans', Arial, Helvetica, sans-serif" font-size="11.60" font-weight="bold" text-anchor="start" fill="#000" stroke="#000" stroke-width="0.2" text-rendering="geometricPrecision">A/A</text>
<text transform="translate(296.50 119.60) rotate(-90) scale(1.180 1)" font-family="'Liberation Sans', Arial, Helvetica, sans-serif" font-size="10.20" font-weight="bold" text-anchor="start" fill="#000" stroke="#000" stroke-width="0.2" text-rendering="geometricPrecision">0</text>
<text transform="translate(527.70 56.00) scale(0.920 1)" font-family="'Liberation Serif', 'Times New Roman', Times, serif" font-size="16.20" font-weight="normal" text-anchor="middle" fill="#000" text-rendering="geometricPrecision">B</text>
</g>
</svg>
</body>
</html>
